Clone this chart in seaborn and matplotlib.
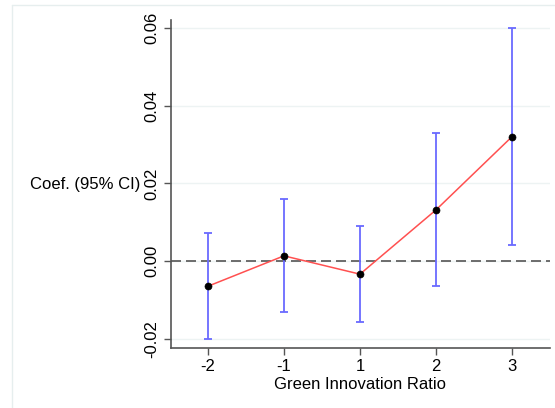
import numpy as np
import pandas as pd
import seaborn as sns
from matplotlib import pyplot as plt
from matplotlib.lines import Line2D

# values
periods = ['-2', '-1', '1', '2', '3']
coef = [-0.0064, 0.0014, -0.0033, 0.0132, 0.0320]
ci_low = [-0.0200, -0.0131, -0.0155, -0.0064, 0.0042]
ci_high = [0.0072, 0.0160, 0.0091, 0.0329, 0.0598]
yticks = [-0.02, 0.00, 0.02, 0.04, 0.06]

df = pd.DataFrame({'period': periods, 'coef': coef,
                   'low': ci_low, 'high': ci_high})
df['pos'] = np.arange(len(df))

sns.set_theme(style='white')
plt.rcParams['font.family'] = ['Liberation Sans', 'DejaVu Sans']

fig = plt.figure(figsize=(5.55, 4.08), dpi=100)
ax = fig.add_axes([0.3076, 0.1463, 0.6834, 0.8047])

# faint frame around the graph region
fig.add_artist(Line2D([12 / 555, 12 / 555], [0, 403 / 408],
                      color='#e6eeee', lw=1, transform=fig.transFigure))
fig.add_artist(Line2D([12 / 555, 1], [403 / 408, 403 / 408],
                      color='#e6eeee', lw=1, transform=fig.transFigure))

for t in yticks:
    ax.axhline(t, color='#edf3f3', lw=1, zorder=0)

ax.axhline(0, color='#555555', lw=1.2, ls=(0, (6, 3)), zorder=1)

ax.errorbar(df.pos, df.coef,
            yerr=[df.coef - df.low, df.high - df.coef],
            fmt='none', ecolor='#6a6aff', elinewidth=1.3,
            capsize=3, capthick=1.3, zorder=2)
sns.lineplot(data=df, x='pos', y='coef', color='#ff5050', lw=1.1,
             ax=ax, zorder=3)
sns.scatterplot(data=df, x='pos', y='coef', color='black', s=26,
                edgecolor='black', ax=ax, zorder=4)

ax.set_xlim(-0.49, 4.5)
ax.set_ylim(-0.02234, 0.06196)
ax.set_xticks(df.pos)
ax.set_xticklabels(periods, fontsize=12, color='black')
ax.set_yticks(yticks)
ax.set_yticklabels([f'{t:.2f}' for t in yticks], fontsize=12,
                   rotation=90, va='center', color='black')
ax.tick_params(axis='both', direction='out', length=5, width=1,
               color='#555555', pad=3, bottom=True, left=True)

ax.set_xlabel('Green Innovation Ratio', fontsize=12, labelpad=2,
              color='black')
ax.set_ylabel('Coef. (95% CI)', fontsize=12, rotation=0,
              ha='right', va='center', labelpad=3, color='black')

for side in ['top', 'right']:
    ax.spines[side].set_visible(False)
for side in ['left', 'bottom']:
    ax.spines[side].set_color('#555555')
    ax.spines[side].set_linewidth(1.2)

fig.savefig('out.png', dpi=100)
plt.close()
